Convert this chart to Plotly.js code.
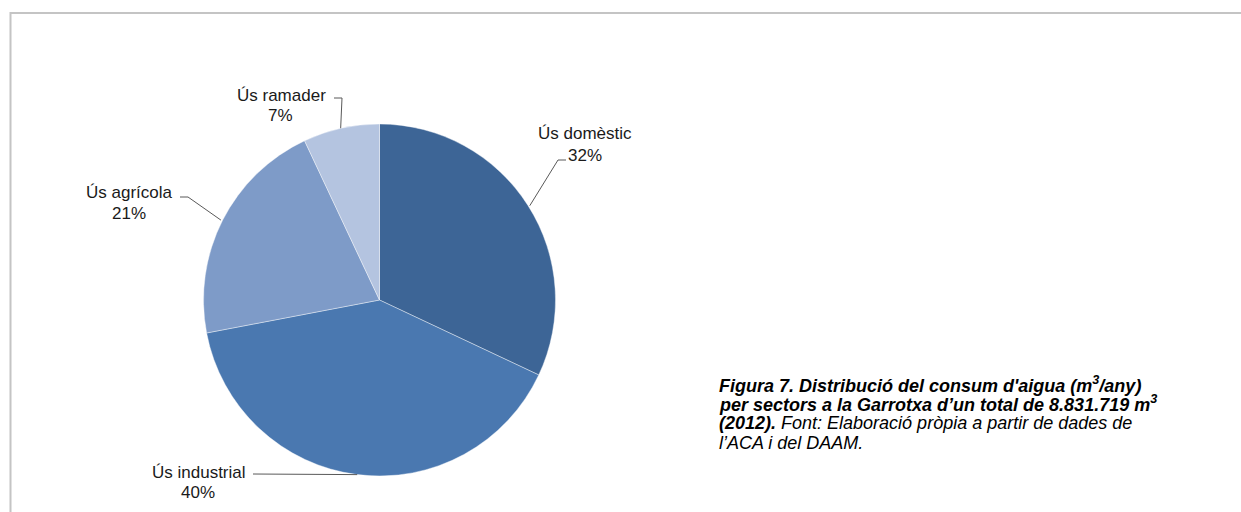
<!DOCTYPE html>
<html>
<head>
<meta charset="utf-8">
<script src="https://cdn.plot.ly/plotly-3.0.1.min.js"></script>
<style>
html,body{margin:0;padding:0;background:#fff;}
#chart{width:1241px;height:512px;}
</style>
</head>
<body>
<div id="chart"></div>
<script>
// ---- data ----
const categories = ["Ús domèstic", "Ús industrial", "Ús agrícola", "Ús ramader"];
const values = [32, 40, 21, 7];
const colors = ["#3d6596", "#4a78b0", "#7e9bc8", "#b4c4e0"];

// caption lines
const captionLines = [
  "<b><i>Figura 7. Distribució del consum d'aigua (m<sup>3</sup>/any)</i></b>",
  "<b><i>per sectors a la Garrotxa d’un total de 8.831.719 m<sup>3</sup></i></b>",
  "<b><i>(2012).</i></b><i> Font: Elaboració pròpia a partir de dades de</i>",
  "<i>l’ACA i del DAAM.</i>"
];

// ---- layout (pixels) ----
const W = 1241, H = 512;
const CX = 379.5, CY = 300, R = 176;
// label placement: name centre, percent centre, elbow point, stub end (pixels)
const labelLayout = [
  {name:[585,133], pct:[585,155], elbow:[558,160], stub:[566,160]},
  {name:[199,472], pct:[198,492], elbow:[253,474], stub:[253,474]},
  {name:[129,192], pct:[129,213], elbow:[188,197], stub:[180,197]},
  {name:[281,95],  pct:[280,115], elbow:[342,98],  stub:[334,98]}
];
const captionX = 718, captionY0 = 384, captionDY = 19.5;

const px = x => x / W;
const py = y => 1 - y / H;

const total = values.reduce((a,b)=>a+b,0);
const pcts = values.map(v => Math.round(v/total*100) + "%");

// mid-angle of each slice (clockwise from 12 o'clock)
let cum = 0;
const edgePts = values.map(v => {
  const mid = (cum + v/2) / total * 2 * Math.PI;
  cum += v;
  return [CX + (R+2)*Math.sin(mid), CY - R*Math.cos(mid)];
});

const labelFont = {family:"Liberation Sans, Arial, sans-serif", size:17, color:"#1a1a1a"};
const annotations = [];
const shapes = [];

categories.forEach((c,i) => {
  const L = labelLayout[i];
  annotations.push({xref:"paper", yref:"paper", x:px(L.name[0]), y:py(L.name[1]),
    text:c, showarrow:false, xanchor:"center", yanchor:"middle", font:labelFont});
  annotations.push({xref:"paper", yref:"paper", x:px(L.pct[0]), y:py(L.pct[1]),
    text:pcts[i], showarrow:false, xanchor:"center", yanchor:"middle", font:labelFont});
  const e = edgePts[i];
  shapes.push({type:"path", xref:"paper", yref:"paper",
    path:`M ${px(e[0])},${py(e[1])} L ${px(L.elbow[0])},${py(L.elbow[1])} L ${px(L.stub[0])},${py(L.stub[1])}`,
    line:{color:"#595959", width:1}});
});

captionLines.forEach((t,i) => {
  annotations.push({xref:"paper", yref:"paper", x:px(captionX), y:py(captionY0 + i*captionDY),
    text:t, showarrow:false, xanchor:"left", yanchor:"middle", borderpad:0,
    font:{family:"Liberation Sans, Arial, sans-serif", size:18, color:"#000"}});
});

// outer frame
shapes.push({type:"path", xref:"paper", yref:"paper",
  path:`M ${px(10.5)},${py(520)} L ${px(10.5)},${py(13)} L ${px(1250)},${py(13)}`,
  line:{color:"#c4c4c4", width:2}});

const trace = {
  type:"pie",
  labels:categories,
  values:values,
  sort:false,
  direction:"clockwise",
  rotation:0,
  textinfo:"none",
  hoverinfo:"label+percent",
  marker:{colors:colors, line:{color:"rgba(255,255,255,0.5)", width:0.8}},
  domain:{x:[px(CX-R), px(CX+R)], y:[py(CY+R), py(CY-R)]},
  showlegend:false
};

const layout = {
  width:W, height:H,
  margin:{l:0,r:0,t:0,b:0},
  paper_bgcolor:"#fff",
  showlegend:false,
  annotations:annotations,
  shapes:shapes
};

Plotly.newPlot("chart", [trace], layout, {displayModeBar:false, staticPlot:true});
</script>
</body>
</html>
